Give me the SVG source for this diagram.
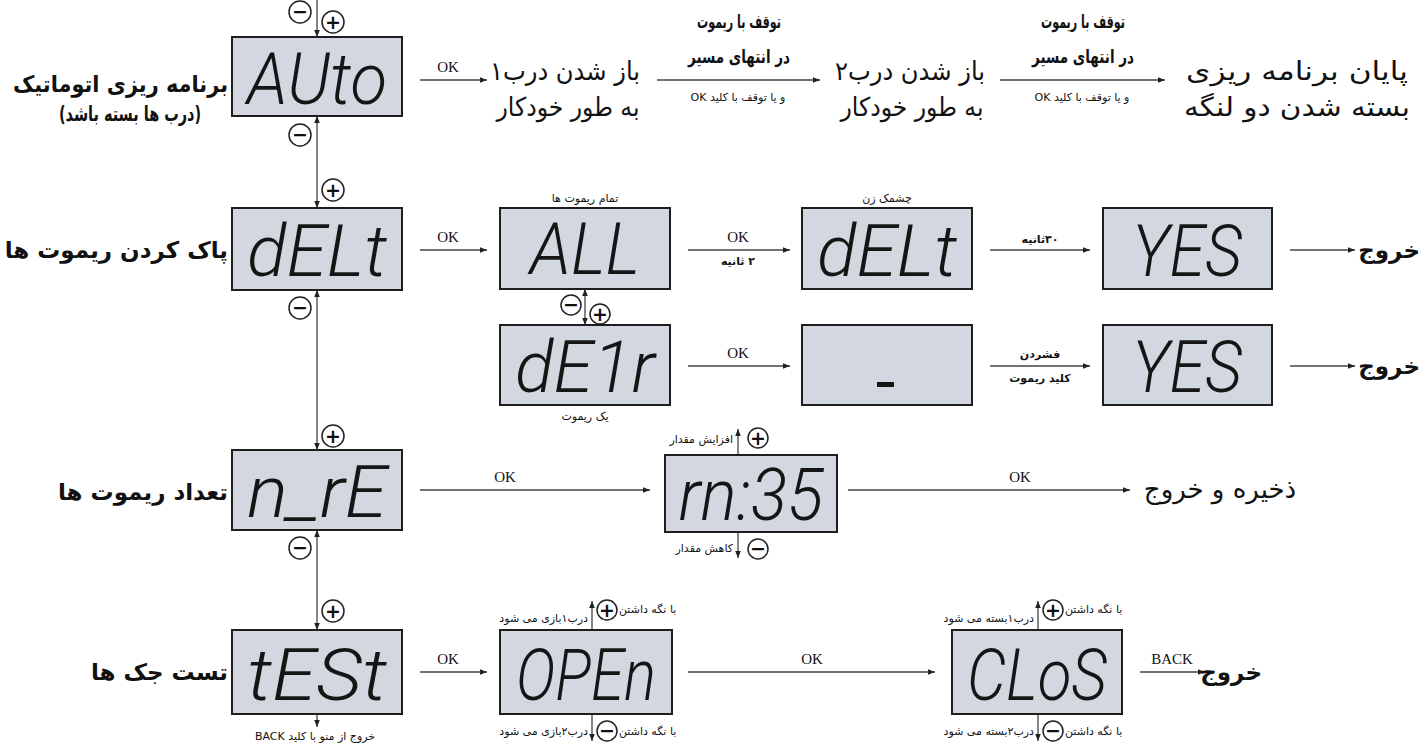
<svg xmlns="http://www.w3.org/2000/svg" width="1424" height="744" viewBox="0 0 1424 744">
<style>
.bg{fill:#ffffff}
.box{fill:#d3d8e0;stroke:#1e1e1e;stroke-width:2}
.lcd{font-family:Roboto,"DejaVu Sans",sans-serif;font-weight:300;font-style:italic;font-size:72px;fill:#151515;text-anchor:middle}
.ln{fill:none;stroke:#444;stroke-width:1.3}
.ttl{font-family:"DejaVu Sans",sans-serif;font-weight:bold;font-size:23px;fill:#111;direction:rtl}
.big{font-family:"DejaVu Sans",sans-serif;font-size:26px;fill:#111;direction:rtl;text-anchor:middle}
.mid{font-family:"DejaVu Sans",sans-serif;font-weight:bold;font-size:18px;fill:#111;direction:rtl;text-anchor:middle}
.sm{font-family:"DejaVu Sans",sans-serif;font-size:11px;fill:#111;direction:rtl}
.smb{font-family:"DejaVu Sans",sans-serif;font-weight:bold;font-size:11px;fill:#111;direction:rtl}
.c{text-anchor:middle}
.r{text-anchor:start}
.l{text-anchor:end}
.lat{font-family:"Liberation Serif",serif;font-size:15px;fill:#111;text-anchor:middle}
.circ{fill:#fff;stroke:#222;stroke-width:1.5}
.sym{font-family:"DejaVu Sans",sans-serif;font-weight:bold;font-size:19px;fill:#111;text-anchor:middle}
</style>
<defs>
<marker id="ah" viewBox="0 0 10 10" refX="10" refY="5" markerWidth="7" markerHeight="7" markerUnits="userSpaceOnUse" orient="auto-start-reverse">
<path d="M0,1 L10,5 L0,9 z" fill="#222"/>
</marker>
</defs>
<rect class="bg" x="0" y="0" width="1424" height="744"/>

<g id="connectors">
<line class="ln" x1="317" y1="0" x2="317" y2="37" marker-end="url(#ah)"/>
<line class="ln" x1="317" y1="116" x2="317" y2="208" marker-start="url(#ah)" marker-end="url(#ah)"/>
<line class="ln" x1="317" y1="290" x2="317" y2="450" marker-start="url(#ah)" marker-end="url(#ah)"/>
<line class="ln" x1="317" y1="530" x2="317" y2="630" marker-start="url(#ah)" marker-end="url(#ah)"/>
<line class="ln" x1="317" y1="714" x2="317" y2="727" marker-end="url(#ah)"/>
<line class="ln" x1="420" y1="80" x2="487" y2="80" marker-end="url(#ah)"/>
<line class="ln" x1="657" y1="80" x2="820" y2="80" marker-end="url(#ah)"/>
<line class="ln" x1="1000" y1="80" x2="1165" y2="80" marker-end="url(#ah)"/>
<line class="ln" x1="420" y1="250" x2="487" y2="250" marker-end="url(#ah)"/>
<line class="ln" x1="688" y1="250" x2="790" y2="250" marker-end="url(#ah)"/>
<line class="ln" x1="990" y1="250" x2="1090" y2="250" marker-end="url(#ah)"/>
<line class="ln" x1="1290" y1="250" x2="1355" y2="250" marker-end="url(#ah)"/>
<line class="ln" x1="585" y1="289" x2="585" y2="325" marker-start="url(#ah)" marker-end="url(#ah)"/>
<line class="ln" x1="688" y1="366" x2="790" y2="366" marker-end="url(#ah)"/>
<line class="ln" x1="990" y1="366" x2="1090" y2="366" marker-end="url(#ah)"/>
<line class="ln" x1="1290" y1="366" x2="1355" y2="366" marker-end="url(#ah)"/>
<line class="ln" x1="420" y1="490" x2="650" y2="490" marker-end="url(#ah)"/>
<line class="ln" x1="848" y1="490" x2="1130" y2="490" marker-end="url(#ah)"/>
<line class="ln" x1="738" y1="455" x2="738" y2="429" marker-end="url(#ah)"/>
<line class="ln" x1="738" y1="532" x2="738" y2="558" marker-end="url(#ah)"/>
<line class="ln" x1="420" y1="672" x2="487" y2="672" marker-end="url(#ah)"/>
<line class="ln" x1="688" y1="672" x2="935" y2="672" marker-end="url(#ah)"/>
<line class="ln" x1="1140" y1="672" x2="1205" y2="672" marker-end="url(#ah)"/>
<line class="ln" x1="592" y1="630" x2="592" y2="601" marker-end="url(#ah)"/>
<line class="ln" x1="592" y1="714" x2="592" y2="741" marker-end="url(#ah)"/>
<line class="ln" x1="1038" y1="630" x2="1038" y2="601" marker-end="url(#ah)"/>
<line class="ln" x1="1038" y1="714" x2="1038" y2="741" marker-end="url(#ah)"/>
</g>

<g id="connector-labels">
<text class="lat" x="448" y="72">OK</text>
<text class="mid" x="739" y="28" textLength="84" lengthAdjust="spacingAndGlyphs">توقف با ریموت</text>
<text class="mid" x="739" y="63" textLength="102" lengthAdjust="spacingAndGlyphs">در انتهای مسیر</text>
<text class="sm c" x="738" y="101">و یا توقف با کلید OK</text>
<text class="mid" x="1083" y="28" textLength="84" lengthAdjust="spacingAndGlyphs">توقف با ریموت</text>
<text class="mid" x="1083" y="63" textLength="102" lengthAdjust="spacingAndGlyphs">در انتهای مسیر</text>
<text class="sm c" x="1082" y="101">و یا توقف با کلید OK</text>
<text class="lat" x="448" y="242">OK</text>
<text class="lat" x="738" y="242">OK</text>
<text class="smb c" x="738" y="265">۲ ثانیه</text>
<text class="smb c" x="1040" y="243">۳۰ثانیه</text>
<text class="lat" x="738" y="358">OK</text>
<text class="smb c" x="1040" y="358">فشردن</text>
<text class="smb c" x="1040" y="382">کلید ریموت</text>
<text class="lat" x="505" y="482">OK</text>
<text class="lat" x="1020" y="482">OK</text>
<text class="lat" x="448" y="664">OK</text>
<text class="lat" x="812" y="664">OK</text>
<text class="lat" x="1172" y="664">BACK</text>
</g>

<g id="nav-buttons">
<circle class="circ" cx="300" cy="12" r="11"/><text class="sym" x="300" y="18">−</text>
<circle class="circ" cx="333" cy="22" r="11"/><text class="sym" x="333" y="29">+</text>
<circle class="circ" cx="300" cy="135" r="11"/><text class="sym" x="300" y="141">−</text>
<circle class="circ" cx="333" cy="190" r="11"/><text class="sym" x="333" y="197">+</text>
<circle class="circ" cx="300" cy="308" r="11"/><text class="sym" x="300" y="314">−</text>
<circle class="circ" cx="333" cy="436" r="11"/><text class="sym" x="333" y="443">+</text>
<circle class="circ" cx="300" cy="548" r="11"/><text class="sym" x="300" y="554">−</text>
<circle class="circ" cx="333" cy="611" r="11"/><text class="sym" x="333" y="618">+</text>
<circle class="circ" cx="571" cy="305" r="10"/><text class="sym" x="571" y="311">−</text>
<circle class="circ" cx="600" cy="314" r="10"/><text class="sym" x="600" y="321">+</text>
<circle class="circ" cx="758" cy="438" r="10"/><text class="sym" x="758" y="445">+</text>
<circle class="circ" cx="758" cy="549" r="10"/><text class="sym" x="758" y="555">−</text>
<circle class="circ" cx="607" cy="610" r="10"/><text class="sym" x="607" y="617">+</text>
<circle class="circ" cx="607" cy="731" r="10"/><text class="sym" x="607" y="737">−</text>
<circle class="circ" cx="1053" cy="610" r="10"/><text class="sym" x="1053" y="617">+</text>
<circle class="circ" cx="1053" cy="731" r="10"/><text class="sym" x="1053" y="737">−</text>
</g>

<g id="row-auto">
<text class="ttl" x="228" y="92" text-anchor="start" textLength="215" lengthAdjust="spacingAndGlyphs">برنامه ریزی اتوماتیک</text>
<text class="ttl" x="130" y="121" text-anchor="middle" style="font-size:21px" textLength="142" lengthAdjust="spacingAndGlyphs">(درب ها بسته باشد)</text>
<rect class="box" x="232" y="37" width="170" height="79"/>
<text class="lcd" x="317" y="104" textLength="140" lengthAdjust="spacingAndGlyphs">AUto</text>
</g>
<g id="auto-open1">
<text class="big" x="565" y="80" textLength="150" lengthAdjust="spacingAndGlyphs">باز شدن درب۱</text>
<text class="big" x="568" y="116" textLength="143" lengthAdjust="spacingAndGlyphs">به طور خودکار</text>
</g>
<g id="auto-open2">
<text class="big" x="910" y="80" textLength="150" lengthAdjust="spacingAndGlyphs">باز شدن درب۲</text>
<text class="big" x="912" y="116" textLength="143" lengthAdjust="spacingAndGlyphs">به طور خودکار</text>
</g>
<g id="auto-end">
<text class="big" x="1297" y="80" textLength="222" lengthAdjust="spacingAndGlyphs">پایان برنامه ریزی</text>
<text class="big" x="1297" y="116" textLength="226" lengthAdjust="spacingAndGlyphs">بسته شدن دو لنگه</text>
</g>

<g id="row-delete">
<text class="ttl" x="228" y="258" text-anchor="start">پاک کردن ریموت ها</text>
<rect class="box" x="232" y="208" width="170" height="82"/>
<text class="lcd" x="317" y="276" textLength="140" lengthAdjust="spacingAndGlyphs">dELt</text>
</g>
<g id="node-all">
<text class="sm c" x="585" y="202">تمام ریموت ها</text>
<rect class="box" x="500" y="208" width="170" height="81"/>
<text class="lcd" x="585" y="274" textLength="110" lengthAdjust="spacingAndGlyphs">ALL</text>
</g>
<g id="node-dellt-blink">
<text class="sm c" x="887" y="202">چشمک زن</text>
<rect class="box" x="802" y="208" width="170" height="81"/>
<text class="lcd" x="887" y="276" textLength="140" lengthAdjust="spacingAndGlyphs">dELt</text>
</g>
<g id="node-yes1">
<rect class="box" x="1103" y="208" width="169" height="81"/>
<text class="lcd" x="1187" y="276" textLength="110" lengthAdjust="spacingAndGlyphs">YES</text>
</g>
<g id="exit1"><text class="ttl" x="1420" y="258" text-anchor="start">خروج</text></g>

<g id="node-del1r">
<rect class="box" x="500" y="325" width="170" height="80"/>
<text class="lcd" x="585" y="392" textLength="140" lengthAdjust="spacingAndGlyphs">dE1r</text>
<text class="sm c" x="585" y="420">یک ریموت</text>
</g>
<g id="node-blank">
<rect class="box" x="802" y="325" width="170" height="80"/>
<rect x="877" y="382" width="17" height="5" fill="#151515"/>
</g>
<g id="node-yes2">
<rect class="box" x="1103" y="325" width="169" height="80"/>
<text class="lcd" x="1187" y="392" textLength="110" lengthAdjust="spacingAndGlyphs">YES</text>
</g>
<g id="exit2"><text class="ttl" x="1420" y="374" text-anchor="start">خروج</text></g>

<g id="row-count">
<text class="ttl" x="228" y="500" text-anchor="start">تعداد ریموت ها</text>
<rect class="box" x="232" y="450" width="170" height="80"/>
<text class="lcd" x="317" y="517" textLength="140" lengthAdjust="spacingAndGlyphs">n_rE</text>
</g>
<g id="node-rn35">
<text class="sm r" x="733" y="443">افزایش مقدار</text>
<rect class="box" x="665" y="455" width="172" height="77"/>
<text class="lcd" x="751" y="520" textLength="145" lengthAdjust="spacingAndGlyphs">rn:35</text>
<text class="sm r" x="733" y="552">کاهش مقدار</text>
</g>
<g id="save-exit"><text class="big" x="1220" y="498" style="font-size:26px">ذخیره و خروج</text></g>

<g id="row-test">
<text class="ttl" x="228" y="680" text-anchor="start">تست جک ها</text>
<rect class="box" x="232" y="630" width="170" height="84"/>
<text class="lcd" x="317" y="700" textLength="140" lengthAdjust="spacingAndGlyphs">tESt</text>
<text class="sm c" x="315" y="740">خروج از منو با کلید BACK</text>
</g>
<g id="node-open">
<text class="sm l" x="619" y="613">با نگه داشتن</text>
<text class="sm r" x="588" y="622">درب۱بازی می شود</text>
<rect class="box" x="500" y="630" width="172" height="84"/>
<text class="lcd" x="586" y="700" textLength="140" lengthAdjust="spacingAndGlyphs">OPEn</text>
<text class="sm l" x="619" y="735">با نگه داشتن</text>
<text class="sm r" x="588" y="735">درب۲بازی می شود</text>
</g>
<g id="node-clos">
<text class="sm l" x="1065" y="613">با نگه داشتن</text>
<text class="sm r" x="1034" y="622">درب۱بسته می شود</text>
<rect class="box" x="952" y="630" width="170" height="84"/>
<text class="lcd" x="1037" y="700" textLength="140" lengthAdjust="spacingAndGlyphs">CLoS</text>
<text class="sm l" x="1065" y="735">با نگه داشتن</text>
<text class="sm r" x="1034" y="735">درب۲بسته می شود</text>
</g>
<g id="exit3"><text class="ttl" x="1262" y="680" text-anchor="start">خروج</text></g>
</svg>
